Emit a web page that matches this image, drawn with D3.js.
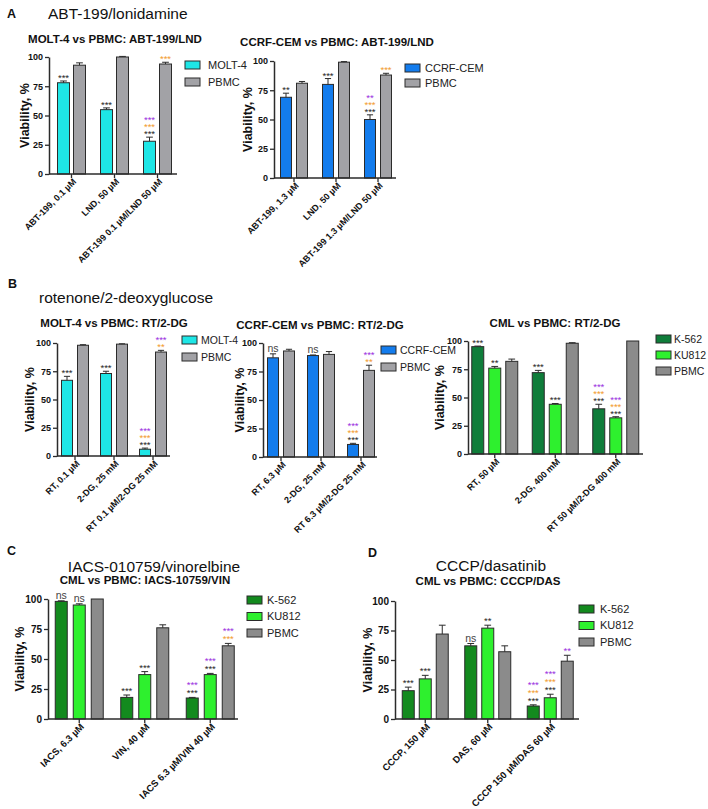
<!DOCTYPE html>
<html>
<head>
<meta charset="utf-8">
<script src="https://cdn.jsdelivr.net/npm/d3@7"></script>
<style>
  body { margin: 0; background: #fff; }
  svg { display: block; font-family: "Liberation Sans", Arial, sans-serif; }
</style>
</head>
<body>
<svg id="chart" width="708" height="809"></svg>
<script>
// ---- data ----
// significance marks: first letter = colour (k black, o orange, p purple), listed bottom-up
var aMoltGroups = ["ABT-199, 0.1 µM", "LND, 50 µM", "ABT-199 0.1 µM/LND 50 µM"];
var aMoltSeries = ["MOLT-4", "PBMC"];
var aMoltMeans = [[78, 55, 28], [93, 100, 94]];
var aMoltErr = [[1.5, 1.5, 3.5], [2, 0.5, 1.5]];
var aMoltSig = [[["k***"], ["k***"], ["k***", "o***", "p***"]], [[], [], ["o***"]]];

var aCemGroups = ["ABT-199, 1.3 µM", "LND, 50 µM", "ABT-199 1.3 µM/LND 50 µM"];
var aCemSeries = ["CCRF-CEM", "PBMC"];
var aCemMeans = [[69, 80, 50], [81, 99, 88]];
var aCemErr = [[3.5, 5, 4], [1.5, 0.5, 1.5]];
var aCemSig = [[["k**"], ["k***"], ["k***", "o***", "p**"]], [[], [], ["o***"]]];

var bMoltGroups = ["RT, 0.1 µM", "2-DG, 25 mM", "RT 0.1 µM/2-DG 25 mM"];
var bMoltSeries = ["MOLT-4", "PBMC"];
var bMoltMeans = [[67, 73, 6], [98, 99, 92]];
var bMoltErr = [[3.5, 2, 1], [0.5, 0.3, 1.5]];
var bMoltSig = [[["k***"], ["k***"], ["k***", "o***", "p***"]], [[], [], ["o**", "p***"]]];

var bCemGroups = ["RT, 6.3 µM", "2-DG, 25 mM", "RT 6.3 µM/2-DG 25 mM"];
var bCemSeries = ["CCRF-CEM", "PBMC"];
var bCemMeans = [[87, 89, 11], [93, 90, 76]];
var bCemErr = [[3.5, 0.5, 1], [1.5, 2.5, 4.5]];
var bCemSig = [[["kns"], ["kns"], ["k***", "o***", "p***"]], [[], [], ["o**", "p***"]]];

var bCmlGroups = ["RT, 50 µM", "2-DG, 400 mM", "RT 50 µM/2-DG 400 mM"];
var cmlSeries = ["K-562", "KU812", "PBMC"];
var bCmlMeans = [[95, 72, 40], [76, 44, 32], [82, 98, 100]];
var bCmlErr = [[0.5, 2, 4], [1.5, 0.7, 1], [2, 0.5, 0]];
var bCmlSig = [[["k***"], ["k***"], ["k***", "o***", "p***"]],
               [["k**"], ["k***"], ["k***", "o***", "p***"]], [[], [], []]];

var cGroups = ["IACS, 6.3 µM", "VIN, 40 µM", "IACS 6.3 µM/VIN 40 µM"];
var cMeans = [[98, 18, 17.5], [95, 37, 37], [100, 76, 61]];
var cErr = [[0.5, 2, 0.5], [1, 2.5, 1], [0, 2.5, 2]];
var cSig = [[["kns"], ["k***"], ["k***", "p***"]],
            [["kns"], ["k***"], ["k***", "p***"]], [[], [], ["o***", "p***"]]];

var dGroups = ["CCCP, 150 µM", "DAS, 60 µM", "CCCP 150 µM/DAS 60 µM"];
var dMeans = [[24, 62, 11], [34, 77, 18], [72, 57, 49]];
var dErr = [[3, 2, 1], [3, 2.5, 3], [7.5, 5, 5]];
var dSig = [[["k***"], ["kns"], ["k***", "o***", "p***"]],
            [["k***"], ["k**"], ["k***", "o***", "p***"]], [[], [], ["p**"]]];

var yTicks = [0, 25, 50, 75, 100];

// ---- styling ----
var cyan = "#1ee6e6", blue = "#137ced", greyA = "#a2a2a6", greyC = "#8b8b8b";
var darkGreen = "#0f7d3a", darkGreen2 = "#138a1e", brightGreen = "#2ef02e";
var sigColors = { k: "#262626", o: "#f29a2e", p: "#9a2fe0" };
var ink = "#2b2b2b";

var svg = d3.select("#chart");
svg.append("rect").attr("width", 708).attr("height", 809).attr("fill", "#fff");

function drawPanel(cfg) {
  var g = svg.append("g");
  var x0 = d3.scaleBand().domain(cfg.groups).range(cfg.xRange).padding(0);
  var y = d3.scaleLinear().domain([0, 100]).range([cfg.yBottom, cfg.yTop]);
  var n = cfg.series.length;
  var inner = cfg.barW * n + cfg.gap * (n - 1);
  var x1 = d3.scaleBand().domain(d3.range(n)).range([-inner / 2, inner / 2])
    .paddingInner(cfg.gap / (cfg.barW + cfg.gap));
  var half = x0.bandwidth() / 2;

  // bars, error bars, significance
  cfg.series.forEach(function(s, si) {
    var rows = cfg.groups.map(function(gr, gi) {
      return { g: gr, v: cfg.means[si][gi], e: cfg.errs[si][gi], sig: cfg.sig[si][gi] };
    });
    var sg = g.append("g");
    sg.selectAll("rect").data(rows).join("rect")
      .attr("x", function(d) { return x0(d.g) + half + x1(si); })
      .attr("y", function(d) { return y(d.v); })
      .attr("width", x1.bandwidth())
      .attr("height", function(d) { return y(0) - y(d.v); })
      .attr("fill", cfg.colors[si])
      .attr("stroke", ink).attr("stroke-width", 1);
    rows.forEach(function(d) {
      var cx = x0(d.g) + half + x1(si) + x1.bandwidth() / 2;
      if (d.e > 0) {
        sg.append("line").attr("x1", cx).attr("x2", cx)
          .attr("y1", y(d.v)).attr("y2", y(d.v + d.e))
          .attr("stroke", ink).attr("stroke-width", 1);
        sg.append("line").attr("x1", cx - cfg.barW * 0.28).attr("x2", cx + cfg.barW * 0.28)
          .attr("y1", y(d.v + d.e)).attr("y2", y(d.v + d.e))
          .attr("stroke", ink).attr("stroke-width", 1);
      }
      var top = y(d.v + d.e);
      d.sig.forEach(function(m, k) {
        var txt = m.slice(1);
        var isNs = txt === "ns";
        sg.append("text")
          .attr("x", cx)
          .attr("y", isNs ? top - 1.5 : top - cfg.starOff - k * cfg.starDy + 4)
          .attr("text-anchor", "middle")
          .attr("font-size", isNs ? 10.5 : 9.5)
          .attr("fill", isNs ? "#444" : sigColors[m[0]])
          .text(txt);
      });
    });
  });

  // y axis
  var ya = g.append("g").attr("transform", "translate(" + cfg.axisX + ",0)")
    .call(d3.axisLeft(y).tickValues(yTicks).tickSize(4).tickSizeOuter(0).tickPadding(2));
  ya.select(".domain").attr("stroke", ink).attr("stroke-width", 1.5);
  ya.selectAll(".tick line").attr("stroke", ink).attr("stroke-width", 1.3);
  ya.selectAll(".tick text").attr("font-size", cfg.tickFont).attr("font-weight", "bold")
    .attr("fill", "#111").attr("font-family", "Liberation Sans, Arial, sans-serif");

  // x axis
  var xa = g.append("g").attr("transform", "translate(0," + cfg.yBottom + ")")
    .call(d3.axisBottom(x0).tickSize(4).tickSizeOuter(0).tickFormat(""));
  xa.select(".domain").remove();
  xa.selectAll(".tick line").attr("stroke", ink).attr("stroke-width", 1.3);
  g.append("line").attr("x1", cfg.axisX).attr("x2", cfg.xEnd)
    .attr("y1", cfg.yBottom).attr("y2", cfg.yBottom)
    .attr("stroke", ink).attr("stroke-width", 1.5);
  g.selectAll("text.xlab").data(cfg.groups).join("text")
    .attr("class", "xlab")
    .attr("transform", function(d) {
      return "translate(" + (x0(d) + half + 3) + "," + (cfg.yBottom + 6) + ") rotate(-45)";
    })
    .attr("text-anchor", "end").attr("dy", "0.35em")
    .attr("font-size", cfg.xFont).attr("font-weight", "bold").attr("fill", "#111")
    .text(function(d) { return d; });

  // y label
  g.append("text")
    .attr("transform", "translate(" + cfg.ylabelX + "," + ((cfg.yTop + cfg.yBottom) / 2) + ") rotate(-90)")
    .attr("text-anchor", "middle").attr("dy", "0.35em")
    .attr("font-size", 12.5).attr("font-weight", "bold").attr("fill", "#111")
    .text("Viability, %");

  // subtitle
  g.append("text").attr("x", cfg.titleX).attr("y", cfg.titleY)
    .attr("text-anchor", "middle").attr("font-size", 11.5).attr("font-weight", "bold")
    .attr("fill", "#111").text(cfg.title);

  // legend
  var lg = g.append("g").selectAll("g").data(cfg.series).join("g")
    .attr("transform", function(d, i) {
      return "translate(" + cfg.legendX + "," + (cfg.legendY + i * cfg.legendDy) + ")";
    });
  lg.append("rect").attr("x", 0).attr("y", -4).attr("width", 15).attr("height", 8)
    .attr("fill", function(d, i) { return cfg.colors[i]; })
    .attr("stroke", ink).attr("stroke-width", 1);
  lg.append("text").attr("x", cfg.legendTx).attr("dy", "0.35em")
    .attr("font-size", cfg.legendFont || 11).attr("fill", "#222").text(function(d) { return d; });
}

function header(letter, lx, ly, title, tx, ty, anchor) {
  svg.append("text").attr("x", lx).attr("y", ly).attr("font-size", 12.5)
    .attr("font-weight", "bold").attr("fill", "#111").text(letter);
  svg.append("text").attr("x", tx).attr("y", ty).attr("font-size", 15.5)
    .attr("text-anchor", anchor).attr("fill", "#111").text(title);
}

header("A", 7, 18, "ABT-199/lonidamine", 48, 19, "start");
header("B", 8, 288, "rotenone/2-deoxyglucose", 39, 303, "start");
header("C", 7, 555, "IACS-010759/vinorelbine", 154, 572, "middle");
header("D", 368, 557, "CCCP/dasatinib", 491, 571, "middle");

var ab = { tickFont: 9, xFont: 9, starDy: 7, starOff: 4 };
var cd = { tickFont: 10, xFont: 9.5, starDy: 8, starOff: 5 };

drawPanel(Object.assign({}, ab, {
  groups: aMoltGroups, series: aMoltSeries, means: aMoltMeans, errs: aMoltErr, sig: aMoltSig,
  colors: [cyan, greyA], title: "MOLT-4 vs PBMC: ABT-199/LND", titleX: 115, titleY: 43,
  axisX: 49, xRange: [50, 179], xEnd: 177, yTop: 57, yBottom: 174, barW: 12, gap: 4,
  legendX: 185, legendY: 65, legendDy: 17, legendTx: 23, ylabelX: 25
}));
drawPanel(Object.assign({}, ab, {
  groups: aCemGroups, series: aCemSeries, means: aCemMeans, errs: aCemErr, sig: aCemSig,
  colors: [blue, greyA], title: "CCRF-CEM vs PBMC: ABT-199/LND", titleX: 337, titleY: 46,
  axisX: 274, xRange: [273, 399], xEnd: 396, yTop: 61, yBottom: 178, barW: 11, gap: 5,
  legendX: 405, legendY: 68, legendDy: 15, legendTx: 20, ylabelX: 248
}));
drawPanel(Object.assign({}, ab, {
  groups: bMoltGroups, series: bMoltSeries, means: bMoltMeans, errs: bMoltErr, sig: bMoltSig,
  colors: [cyan, greyA], title: "MOLT-4 vs PBMC: RT/2-DG", titleX: 114, titleY: 327,
  axisX: 57, xRange: [55.5, 172.5], xEnd: 170, yTop: 343, yBottom: 456, barW: 11, gap: 5,
  legendX: 182, legendY: 340, legendDy: 17, legendTx: 19, ylabelX: 30, legendFont: 10.5
}));
drawPanel(Object.assign({}, ab, {
  groups: bCemGroups, series: bCemSeries, means: bCemMeans, errs: bCemErr, sig: bCemSig,
  colors: [blue, greyA], title: "CCRF-CEM vs PBMC: RT/2-DG", titleX: 320, titleY: 329,
  axisX: 263, xRange: [261, 381], xEnd: 377, yTop: 343, yBottom: 457, barW: 11, gap: 5,
  legendX: 381, legendY: 350, legendDy: 17, legendTx: 19, ylabelX: 240, legendFont: 10.5
}));
drawPanel(Object.assign({}, ab, {
  groups: bCmlGroups, series: cmlSeries, means: bCmlMeans, errs: bCmlErr, sig: bCmlSig,
  colors: [darkGreen, brightGreen, greyC], title: "CML vs PBMC: RT/2-DG", titleX: 555, titleY: 327,
  axisX: 468, xRange: [464.5, 646], xEnd: 643, yTop: 341, yBottom: 454, barW: 12, gap: 5,
  legendX: 656, legendY: 339, legendDy: 16, legendTx: 18, ylabelX: 440, legendFont: 10.5
}));
drawPanel(Object.assign({}, cd, {
  groups: cGroups, series: cmlSeries, means: cMeans, errs: cErr, sig: cSig,
  colors: [darkGreen2, brightGreen, greyC], title: "CML vs PBMC: IACS-10759/VIN", titleX: 145, titleY: 584,
  axisX: 48, xRange: [46.5, 243], xEnd: 238, yTop: 599, yBottom: 719, barW: 12, gap: 6,
  legendX: 247, legendY: 600, legendDy: 16.5, legendTx: 20, ylabelX: 20
}));
drawPanel(Object.assign({}, cd, {
  groups: dGroups, series: cmlSeries, means: dMeans, errs: dErr, sig: dSig,
  colors: [darkGreen2, brightGreen, greyC], title: "CML vs PBMC: CCCP/DAS", titleX: 488, titleY: 585,
  axisX: 395, xRange: [394, 581.5], xEnd: 579, yTop: 601, yBottom: 719, barW: 12, gap: 5,
  legendX: 579, legendY: 609, legendDy: 16.5, legendTx: 21, ylabelX: 368
}));
</script>
</body>
</html>
